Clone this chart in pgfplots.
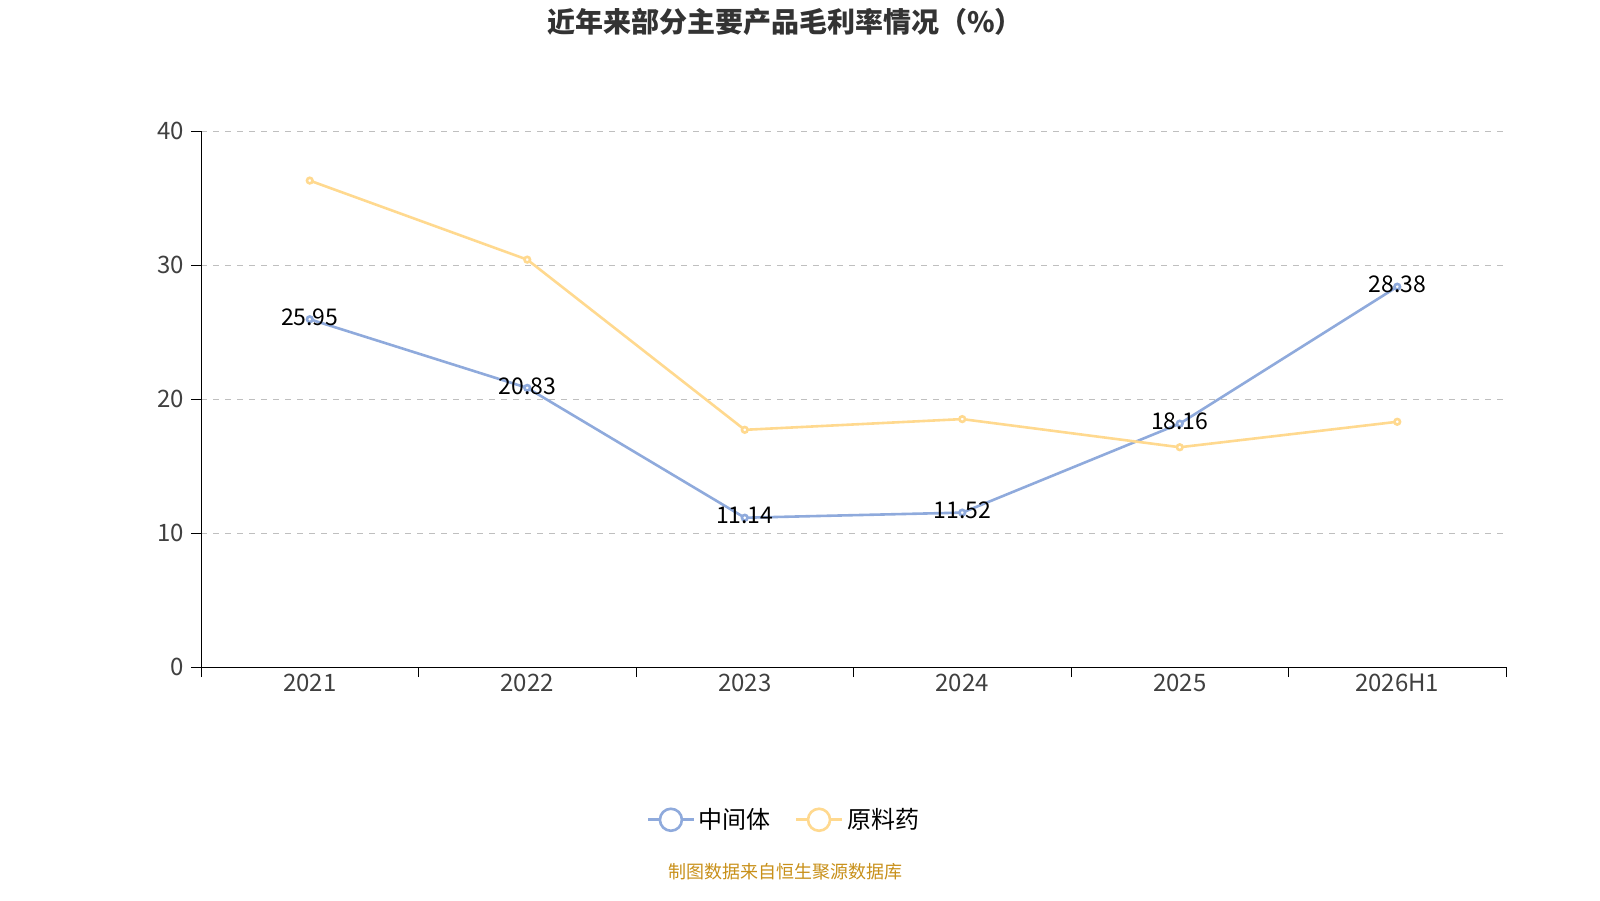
\documentclass[border=0pt]{standalone}
\usepackage{pgfplots}
\pgfplotsset{compat=1.18}
\usepackage{fontspec}
\setmainfont{Noto Sans CJK SC}
\definecolor{cb}{HTML}{8FAADC}
\definecolor{cy}{HTML}{FFD98F}
\definecolor{src}{HTML}{C8901A}
\begin{document}
\begin{tikzpicture}[x=1pt,y=1pt]
\useasboundingbox (0,0) rectangle (800,450);
\node[font=\bfseries\fontsize{14}{16}\selectfont,text=black!80] at (392.5,439) {近年来部分主要产品毛利率情况（\%）};
\node[font=\fontsize{9}{10}\selectfont,text=src] at (392.5,14) {制图数据来自恒生聚源数据库};
\begin{axis}[at={(100.5pt,116.5pt)},anchor=south west,scale only axis,
 width=652.5pt,height=268pt,
 xmin=-0.5,xmax=5.5,ymin=0,ymax=40,ytick={0,10,20,30,40},
 xtick={-0.5,0.5,...,5.5},xticklabels={},
 extra x ticks={0,...,5},extra x tick labels={2021,2022,2023,2024,2025,2026H1},
 extra x tick style={major tick length=0pt,grid=none},
 tick align=outside, tick style={black},
 axis x line*=bottom, axis y line*=left,
 ymajorgrids, grid style={dashed,gray!50},
 major tick length=5pt,
 tick label style={font=\fontsize{12}{13}\selectfont,text=black!75},
 /pgf/number format/assume math mode=true,
 legend style={at={(0.4475,-0.285)},anchor=center,draw=none,legend columns=2,
   font=\fontsize{12}{13}\selectfont,/tikz/every even column/.append style={column sep=10pt}},
 legend image code/.code={\draw[#1,mark=none] (0,0)--(0.8cm,0); \draw[#1,fill=white,mark=none] (0.4cm,0) circle (5.5pt);},
]
\addplot[cb,line width=1.3pt,mark=*,mark options={fill=white,scale=0.7},
 nodes near coords,point meta=explicit symbolic,
 every node near coord/.append style={anchor=center,yshift=1pt,text=black,font=\fontsize{11.5}{12}\selectfont}]
 coordinates {(0,25.95)[25.95] (1,20.83)[20.83] (2,11.14)[11.14] (3,11.52)[11.52] (4,18.16)[18.16] (5,28.38)[28.38]};
\addlegendentry{中间体}
\addplot[cy,line width=1.3pt,mark=*,mark options={fill=white,scale=0.7}]
 coordinates {(0,36.3) (1,30.4) (2,17.7) (3,18.5) (4,16.4) (5,18.3)};
\addlegendentry{原料药}
\end{axis}
\end{tikzpicture}
\end{document}
